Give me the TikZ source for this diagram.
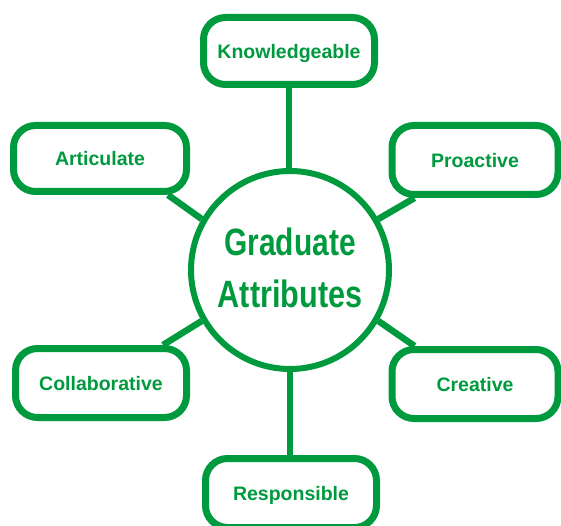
\documentclass[tikz,border=0pt]{standalone}
\usepackage{fontspec}
\setmainfont{Liberation Sans}
\usetikzlibrary{calc}
\definecolor{ggreen}{RGB}{0,154,62}
\tikzset{
  attbox/.style={draw=ggreen, line width=7pt, rounded corners=22pt, fill=white,
    inner sep=0pt, text=ggreen, text depth=0pt, font=\fontsize{19.5}{21}\selectfont\bfseries},
  link/.style={draw=ggreen, line width=6.5pt},
  titletext/.style={text=ggreen, font=\fontsize{34}{38}\selectfont\bfseries, inner sep=0pt},
}
\begin{document}
\begin{tikzpicture}[x=1pt,y=-1pt]
\useasboundingbox (0,0) rectangle (561,526);
\coordinate (c0) at (290,270);
\node[attbox, minimum width=171pt, minimum height=67pt] (know) at (289,51) {Knowledgeable};
\node[attbox, minimum width=173pt, minimum height=66pt] (artic) at (100,158.5) {Articulate};
\node[attbox, minimum width=166pt, minimum height=69pt] (proact) at (475,160) {Proactive};
\node[attbox, minimum width=171pt, minimum height=69pt] (collab) at (101,383) {Collaborative};
\node[attbox, minimum width=166pt, minimum height=69pt] (creat) at (475,384) {Creative};
\node[attbox, minimum width=171pt, minimum height=69pt] (resp) at (291,493) {Responsible};
\node[draw=ggreen, line width=6pt, circle, minimum size=198pt, inner sep=0pt, fill=white] (circ) at (c0) {};
\node[titletext] (t1) at (290,242) {\scalebox{0.88}[1.12]{Graduate}};
\node[titletext] (t2) at (290,294) {\scalebox{0.9}[1.12]{Attributes}};
\draw[link] (know.south) -- (know.south |- circ.north);
\draw[link] (circ.south) -- (circ.south |- resp.north);
\draw[link] ($(artic.south east)+(-22,0)$) -- (circ.150);
\draw[link] ($(collab.north east)+(-27,0)$) -- (circ.210);
\draw[link] ($(proact.south west)+(26,0)$) -- (circ.30);
\draw[link] ($(creat.north west)+(26,0)$) -- (circ.330);
\end{tikzpicture}
\end{document}
